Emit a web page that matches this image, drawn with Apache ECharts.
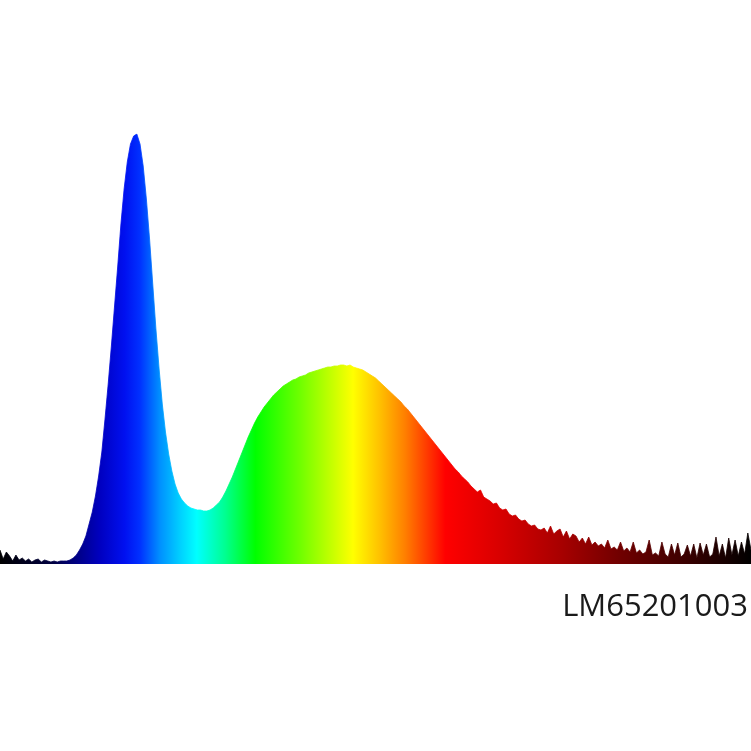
<!DOCTYPE html>
<html>
<head>
<meta charset="utf-8">
<script src="https://cdn.jsdelivr.net/npm/echarts@6/dist/echarts.min.js"></script>
<style>
html,body{margin:0;padding:0;background:#fff;}
#chart{width:751px;height:751px;}
</style>
</head>
<body>
<div id="chart"></div>
<script>
// Spectrum: wavelength range (nm) and relative intensity (2 nm steps)
const wlStart = 360;
const wlStep = 2;
const intensity = [
  14,5,12,8,3,9,4,6,3,5,2,4,5,2,4,3,2,3,2,3,3,
  3,4,6,9,14,20,28,40,52,68,88,112,145,180,218,258,298,340,375,402,420,428,430,
  420,398,365,325,280,235,195,160,132,110,93,80,71,65,61,58,56,55,54,54,53,53,54,
  56,59,62,67,73,80,87,95,103,111,119,127,134,141,147,152,157,161,165,169,172,175,
  178,180,182,184,185,187,188,189,191,192,193,194,195,196,197,197,198,198,199,199,
  198,199,197,196,195,194,
  192,190,188,186,183,180,177,174,171,168,165,162,158,155,151,147,143,139,135,131,127,123,119,115,111,107,103,99,95,92,88,85,82,78,
  75,72,74,67,65,63,60,61,56,54,55,50,48,49,45,43,44,40,38,39,35,34,
  36,31,38,30,33,35,27,33,25,30,28,22,26,20,27,19,22,18,20,16,24,15,17,14,22,13,16,12,22,11,14,10,12,24,9,11,8,22,10,7,20,9,21,7,10,19,8,20,6,21,9,20,7,10,27,8,20,6,26,9,24,8,22,10,31,14
];
const label = 'LM65201003';

const wlEnd = wlStart + (intensity.length - 1) * wlStep;
const seriesData = intensity.map((v, i) => [wlStart + i * wlStep, v]);

const stops = [
  [0.00, '#000000'], [0.07, '#000040'], [0.10, '#000080'], [0.133, '#0000c0'],
  [0.166, '#0010f0'], [0.186, '#0030ff'], [0.213, '#0090ff'], [0.24, '#00d0ff'],
  [0.262, '#00ffff'], [0.30, '#00ff90'], [0.34, '#00ff00'], [0.40, '#70ff00'],
  [0.47, '#ffff00'], [0.506, '#ffc000'], [0.539, '#ff8000'], [0.593, '#ff0000'],
  [0.666, '#d80000'], [0.746, '#a80000'], [0.826, '#700000'], [0.905, '#400000'],
  [1.00, '#000000']
];
function grad() {
  return new echarts.graphic.LinearGradient(0, 0, 1, 0,
    stops.map(s => ({offset: s[0], color: s[1]})));
}

const chart = echarts.init(document.getElementById('chart'));
chart.setOption({
  animation: false,
  backgroundColor: '#ffffff',
  title: {
    text: label,
    right: 3,
    top: 592,
    padding: 0,
    textStyle: {fontFamily: 'Open Sans', fontWeight: 'normal', fontSize: 31, color: '#1a1a1a'}
  },
  grid: {left: 0, right: 0, top: 134, bottom: 187},
  xAxis: {type: 'value', min: wlStart, max: wlEnd, show: false},
  yAxis: {type: 'value', min: 0, max: 430, show: false},
  series: [{
    type: 'line',
    data: seriesData,
    symbol: 'none',
    lineStyle: {width: 0.8, color: grad()},
    areaStyle: {color: grad(), opacity: 1}
  }]
});
</script>
</body>
</html>
